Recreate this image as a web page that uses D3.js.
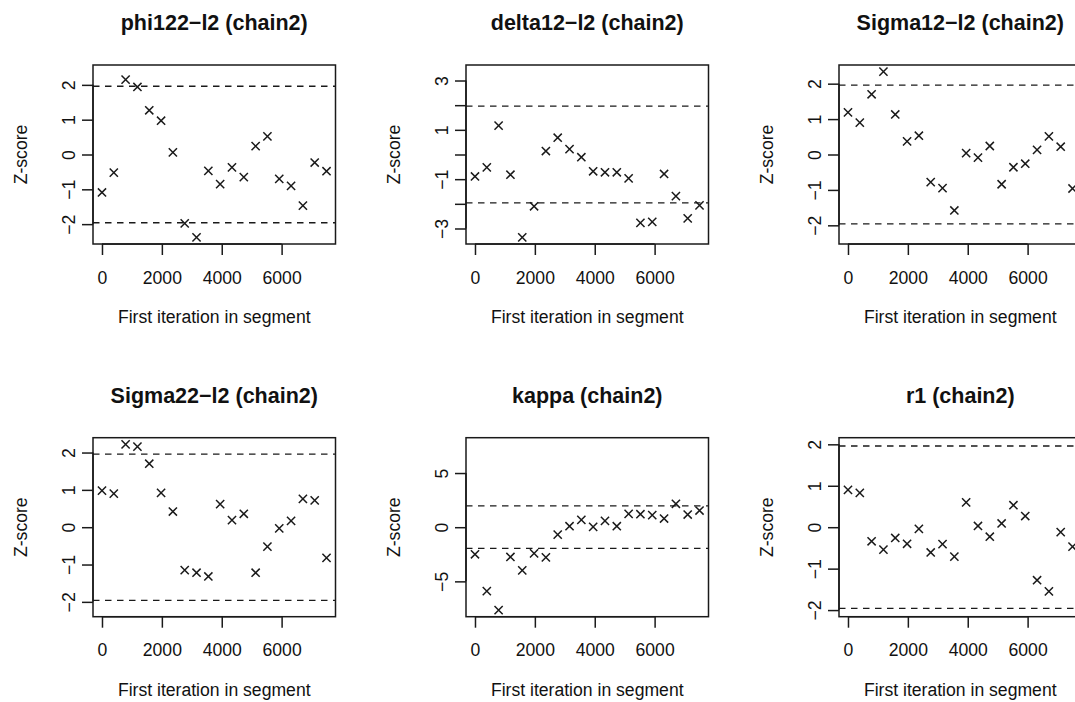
<!DOCTYPE html>
<html><head><meta charset="utf-8">
<script src="https://cdn.jsdelivr.net/npm/d3@7/dist/d3.min.js"></script>
<style>
body{margin:0;background:#fff;overflow:hidden}
text{font-family:"Liberation Sans",Arial,Helvetica,sans-serif;fill:#111}
</style>
</head><body>
<svg id="chart" width="1075" height="702"></svg>
<script>
// ---- data ----
const iterations = [0,395,789,1184,1579,1974,2368,2763,3158,3553,3947,4342,4737,5132,5526,5921,6316,6711,7105,7500];
const titles = ["phi122\u2212l2 (chain2)","delta12\u2212l2 (chain2)","Sigma12\u2212l2 (chain2)",
                "Sigma22\u2212l2 (chain2)","kappa (chain2)","r1 (chain2)"];
const phi122 = [-1.09,-0.52,2.15,1.94,1.27,0.97,0.06,-1.98,-2.38,-0.47,-0.85,-0.37,-0.65,0.24,0.52,-0.70,-0.90,-1.47,-0.23,-0.48];
const delta12 = [-0.89,-0.52,1.17,-0.82,-3.36,-2.10,0.14,0.68,0.22,-0.11,-0.68,-0.72,-0.72,-0.97,-2.77,-2.73,-0.79,-1.69,-2.59,-2.06];
const sigma12 = [1.19,0.90,1.70,2.34,1.13,0.37,0.53,-0.78,-0.95,-1.58,0.04,-0.09,0.24,-0.84,-0.36,-0.26,0.13,0.51,0.22,-0.96];
const sigma22 = [0.98,0.90,2.22,2.16,1.70,0.92,0.42,-1.15,-1.22,-1.32,0.62,0.19,0.36,-1.22,-0.52,-0.03,0.17,0.76,0.72,-0.82];
const kappa = [-2.50,-5.90,-7.65,-2.75,-3.98,-2.41,-2.78,-0.68,0.09,0.68,0.03,0.59,0.09,1.23,1.20,1.11,0.80,2.16,1.17,1.54];
const r1 = [0.90,0.83,-0.34,-0.54,-0.26,-0.40,-0.04,-0.61,-0.41,-0.71,0.60,0.03,-0.23,0.09,0.53,0.27,-1.28,-1.55,-0.12,-0.47];
const xTicks = [0,2000,4000,6000];
const yTicksAll = [[-2,-1,0,1,2],[-3,-2,-1,0,1,2,3],[-2,-1,0,1,2],[-2,-1,0,1,2],[-5,0,5],[-2,-1,0,1,2]];
const yLabelsShown = [[-2,-1,0,1,2],[-3,-1,1,3],[-2,-1,0,1,2],[-2,-1,0,1,2],[-5,0,5],[-2,-1,0,1,2]];
const limits = [1.96,-1.96];
const series = [phi122, delta12, sigma12, sigma22, kappa, r1];

// ---- layout ----
const svg = d3.select("#chart");
const boxW = 242.5, boxH = 179;
const colX = [93, 466, 839], rowY = [65, 437.7];
const fmt = v => (v < 0 ? "\u2212" + Math.abs(v) : String(v));
const ink = "#1a1a1a";

series.forEach((vals, i) => {
  const left = colX[i % 3], top = rowY[Math.floor(i / 3)];
  const g = svg.append("g");
  const xmin = d3.min(iterations), xmax = d3.max(iterations);
  const xr = xmax - xmin;
  const x = d3.scaleLinear().domain([xmin - 0.04 * xr, xmax + 0.04 * xr]).range([left, left + boxW]);
  const L = Math.max(2, d3.max(vals, v => Math.abs(v)));
  const y = d3.scaleLinear().domain([-1.08 * L, 1.08 * L]).range([top + boxH, top]);

  // title
  g.append("text").attr("x", left + boxW / 2).attr("y", top - 34.7)
    .attr("text-anchor", "middle").attr("font-weight", "bold").attr("font-size", 21.5)
    .text(titles[i]);

  // clip for plot region
  const cid = "clip" + i;
  svg.append("clipPath").attr("id", cid).append("rect")
    .attr("x", left).attr("y", top).attr("width", boxW).attr("height", boxH);

  // dashed reference lines
  g.append("g").attr("clip-path", `url(#${cid})`).selectAll("line").data(limits).join("line")
    .attr("x1", left).attr("x2", left + boxW)
    .attr("y1", d => y(d)).attr("y2", d => y(d))
    .attr("stroke", ink).attr("stroke-width", 1.3).attr("stroke-dasharray", "6.5,5.5");

  // points (pch 4)
  g.append("g").selectAll("path").data(vals).join("path")
    .attr("transform", (d, k) => `translate(${x(iterations[k])},${y(d)})`)
    .attr("d", "M-4.1,-4.1L4.1,4.1M-4.1,4.1L4.1,-4.1")
    .attr("stroke", ink).attr("stroke-width", 1.5).attr("fill", "none");

  // box
  g.append("rect").attr("x", left).attr("y", top).attr("width", boxW).attr("height", boxH)
    .attr("fill", "none").attr("stroke", ink).attr("stroke-width", 1.5);

  // x axis
  const xa = g.append("g").attr("transform", `translate(0,${top + boxH})`)
    .call(d3.axisBottom(x).tickValues(xTicks).tickSize(11).tickPadding(0).tickFormat(d3.format("d")));
  xa.select(".domain").attr("d", `M${x(xTicks[0])},0H${x(xTicks[xTicks.length - 1])}`)
    .attr("stroke", ink).attr("stroke-width", 1.5);
  xa.selectAll(".tick line").attr("stroke", ink).attr("stroke-width", 1.5);
  xa.selectAll(".tick text").attr("font-size", 17.6).attr("dy", null).attr("y", 39.5)
    .attr("fill", "#111").attr("font-family", '"Liberation Sans",Arial,sans-serif');

  // y axis
  const yt = yTicksAll[i], shown = yLabelsShown[i];
  const ya = g.append("g").attr("transform", `translate(${left},0)`)
    .call(d3.axisLeft(y).tickValues(yt).tickSize(11).tickFormat(d => shown.includes(d) ? fmt(d) : ""));
  ya.select(".domain").attr("d", `M0,${y(yt[0])}V${y(yt[yt.length - 1])}`)
    .attr("stroke", ink).attr("stroke-width", 1.5);
  ya.selectAll(".tick line").attr("stroke", ink).attr("stroke-width", 1.5);
  ya.selectAll(".tick text")
    .attr("x", null).attr("dy", null).attr("text-anchor", "middle")
    .attr("transform", "translate(-18,0) rotate(-90)")
    .attr("font-size", 17.6).attr("fill", "#111").attr("font-family", '"Liberation Sans",Arial,sans-serif');

  // axis titles
  g.append("text").attr("x", left + boxW / 2).attr("y", top + boxH + 79)
    .attr("text-anchor", "middle").attr("font-size", 17.6).text("First iteration in segment");
  g.append("text").attr("transform", `translate(${left - 66.5},${top + boxH / 2}) rotate(-90)`)
    .attr("text-anchor", "middle").attr("font-size", 17.6).text("Z-score");
});
</script>
</body></html>
